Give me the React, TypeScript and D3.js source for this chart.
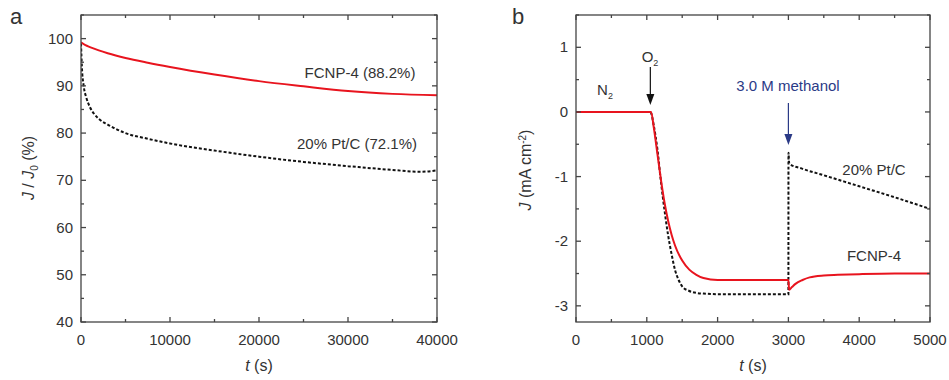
import React from "react";
import * as d3 from "d3";

// panel a: long-term stability
const aRedT = [0, 500, 1000, 2000, 3000, 5000, 7500, 10000, 15000, 20000, 25000, 30000, 35000, 40000];
const aRedV = [99.2, 98.6, 98.2, 97.5, 96.9, 95.9, 94.9, 94.0, 92.4, 91.0, 89.9, 88.9, 88.3, 88.0];
const aBlkT = [0, 100, 300, 600, 1000, 1500, 2000, 3000, 5000, 7500, 10000, 15000, 20000, 25000, 30000, 35000, 38000, 40000];
const aBlkV = [99, 94, 90, 87.5, 85.5, 84, 83, 81.8, 80, 78.8, 77.8, 76.3, 75, 73.9, 73, 72.2, 71.8, 72.1];

// panel b: methanol crossover
const bBlkT = [0, 1000, 1050, 1100, 1150, 1200, 1250, 1300, 1350, 1400, 1450, 1500, 1600, 1700, 1800, 2000, 2500, 3000, 3001, 3012, 3200, 3500, 4000, 4500, 5000];
const bBlkV = [0, 0, 0, -0.22, -0.58, -1.08, -1.52, -1.9, -2.2, -2.45, -2.6, -2.7, -2.77, -2.8, -2.81, -2.82, -2.82, -2.82, -0.63, -0.8, -0.88, -0.98, -1.15, -1.32, -1.5];
const bRedT = [0, 1000, 1060, 1100, 1150, 1200, 1250, 1300, 1350, 1400, 1500, 1600, 1700, 1800, 2000, 2500, 3000, 3010, 3050, 3100, 3200, 3300, 3500, 3700, 4000, 4500, 5000];
const bRedV = [0, 0, 0, -0.25, -0.65, -1.05, -1.4, -1.68, -1.9, -2.07, -2.3, -2.44, -2.52, -2.57, -2.6, -2.6, -2.6, -2.75, -2.71, -2.66, -2.6, -2.56, -2.53, -2.52, -2.51, -2.5, -2.5];

const aXTicks = [0, 10000, 20000, 30000, 40000];
const aYTicks = [40, 50, 60, 70, 80, 90, 100];
const bXTicks = [0, 1000, 2000, 3000, 4000, 5000];
const bYTicks = [-3, -2, -1, 0, 1];

const FONT = "'Liberation Sans', Arial, sans-serif";
const TXT = "#333";

type Pt = [number, number];
const zip = (t: number[], v: number[]): Pt[] => t.map((x, i) => [x, v[i]]);

function Frame({ x, y, xMinor, yMinor, xTicks, yTicks }: any) {
  const [x0, x1] = x.range();
  const [y0, y1] = y.range();
  const maj = 5, min = 3;
  const lines: any[] = [];
  const xs = d3.range(x.domain()[0], x.domain()[1] + 1e-9, xMinor);
  xs.forEach((v: number, i: number) => {
    const L = xTicks.includes(v) ? maj : min;
    const px = x(v);
    lines.push(<line key={"xb" + i} x1={px} x2={px} y1={y0} y2={y0 - L} />);
    lines.push(<line key={"xt" + i} x1={px} x2={px} y1={y1} y2={y1 + L} />);
  });
  const ys = d3.range(Math.ceil(y.domain()[0] / yMinor) * yMinor, y.domain()[1] + 1e-9, yMinor);
  ys.forEach((v: number, i: number) => {
    const L = yTicks.some((t: number) => Math.abs(t - v) < 1e-9) ? maj : min;
    const py = y(v);
    lines.push(<line key={"yl" + i} x1={x0} x2={x0 + L} y1={py} y2={py} />);
    lines.push(<line key={"yr" + i} x1={x1} x2={x1 - L} y1={py} y2={py} />);
  });
  return (
    <g stroke="#444" strokeWidth={1.3} fill="none">
      <rect x={x0} y={y1} width={x1 - x0} height={y0 - y1} />
      {lines}
    </g>
  );
}

function TickLabels({ x, y, xTicks, yTicks }: any) {
  const y0 = y.range()[0];
  const x0 = x.range()[0];
  return (
    <g fontFamily={FONT} fontSize={15} fill={TXT}>
      {xTicks.map((t: number) => (
        <text key={"x" + t} x={x(t)} y={y0 + 23} textAnchor="middle">{t}</text>
      ))}
      {yTicks.map((t: number) => (
        <text key={"y" + t} x={x0 - 8} y={y(t) + 5} textAnchor="end">{t}</text>
      ))}
    </g>
  );
}

export default function App() {
  // panel a scales
  const ax = d3.scaleLinear().domain([0, 40000]).range([81, 437]);
  const ay = d3.scaleLinear().domain([40, 105]).range([322, 15]);
  // panel b scales
  const bx = d3.scaleLinear().domain([0, 5000]).range([576, 930]);
  const by = d3.scaleLinear().domain([-3.25, 1.5]).range([322, 15]);

  const lineA = d3.line<Pt>().x(d => ax(d[0])).y(d => ay(d[1])).curve(d3.curveMonotoneX);
  const lineB = d3.line<Pt>().x(d => bx(d[0])).y(d => by(d[1])).curve(d3.curveMonotoneX);

  const methX = bx(3000);
  const o2X = bx(1050);

  return (
    <svg width={949} height={380} style={{ position: "absolute", left: 0, top: 0, background: "#fff" }}>
      <defs>
        <clipPath id="clipA"><rect x={81} y={15} width={356} height={307} /></clipPath>
        <clipPath id="clipB"><rect x={576} y={15} width={354} height={307} /></clipPath>
      </defs>

      {/* panel a */}
      <g clipPath="url(#clipA)">
        <path d={lineA(zip(aBlkT, aBlkV)) || ""} fill="none" stroke="#111" strokeWidth={2} strokeDasharray="3,2" />
        <path d={lineA(zip(aRedT, aRedV)) || ""} fill="none" stroke="#e8141e" strokeWidth={2} />
      </g>
      <Frame x={ax} y={ay} xMinor={5000} yMinor={5} xTicks={aXTicks} yTicks={aYTicks} />
      <TickLabels x={ax} y={ay} xTicks={aXTicks} yTicks={aYTicks} />
      <g fontFamily={FONT} fill={TXT}>
        <text x={10} y={24} fontSize={22}>a</text>
        <text x={360} y={78} fontSize={15} textAnchor="middle">FCNP-4 (88.2%)</text>
        <text x={357} y={149} fontSize={15} textAnchor="middle">20% Pt/C (72.1%)</text>
        <text x={259} y={371} fontSize={16} textAnchor="middle"><tspan fontStyle="italic">t</tspan> (s)</text>
        <text transform="translate(34,168) rotate(-90)" fontSize={16} textAnchor="middle">
          <tspan fontStyle="italic">J</tspan> / <tspan fontStyle="italic">J</tspan>
          <tspan fontSize={10} dy={4}>0</tspan>
          <tspan dy={-4}> (%)</tspan>
        </text>
      </g>

      {/* panel b */}
      <g clipPath="url(#clipB)">
        <path d={lineB(zip(bBlkT, bBlkV)) || ""} fill="none" stroke="#111" strokeWidth={2} strokeDasharray="3,2" />
        <path d={lineB(zip(bRedT, bRedV)) || ""} fill="none" stroke="#e8141e" strokeWidth={2} />
      </g>
      <Frame x={bx} y={by} xMinor={500} yMinor={0.5} xTicks={bXTicks} yTicks={bYTicks} />
      <TickLabels x={bx} y={by} xTicks={bXTicks} yTicks={bYTicks} />

      {/* annotations */}
      <g>
        <line x1={o2X} x2={o2X} y1={67} y2={96} stroke="#111" strokeWidth={1.2} />
        <path d={`M${o2X - 4},94 L${o2X + 4},94 L${o2X},105 Z`} fill="#111" />
        <line x1={methX} x2={methX} y1={103} y2={136} stroke="#2b3a86" strokeWidth={1.2} />
        <path d={`M${methX - 4},134 L${methX + 4},134 L${methX},145 Z`} fill="#2b3a86" />
      </g>
      <g fontFamily={FONT} fill={TXT}>
        <text x={512} y={24} fontSize={22}>b</text>
        <text x={650} y={62} fontSize={15} textAnchor="middle">O<tspan fontSize={9} dy={4}>2</tspan></text>
        <text x={605} y={95} fontSize={15} textAnchor="middle">N<tspan fontSize={9} dy={4}>2</tspan></text>
        <text x={788} y={91} fontSize={15} textAnchor="middle" fill="#2b3a86">3.0 M methanol</text>
        <text x={874} y={175} fontSize={15} textAnchor="middle">20% Pt/C</text>
        <text x={874} y={261} fontSize={15} textAnchor="middle">FCNP-4</text>
        <text x={753} y={371} fontSize={16} textAnchor="middle"><tspan fontStyle="italic">t</tspan> (s)</text>
        <text transform="translate(531,170) rotate(-90)" fontSize={16} textAnchor="middle">
          <tspan fontStyle="italic">J</tspan> (mA cm<tspan fontSize={10} dy={-5}>-2</tspan><tspan dy={5}>)</tspan>
        </text>
      </g>
    </svg>
  );
}
